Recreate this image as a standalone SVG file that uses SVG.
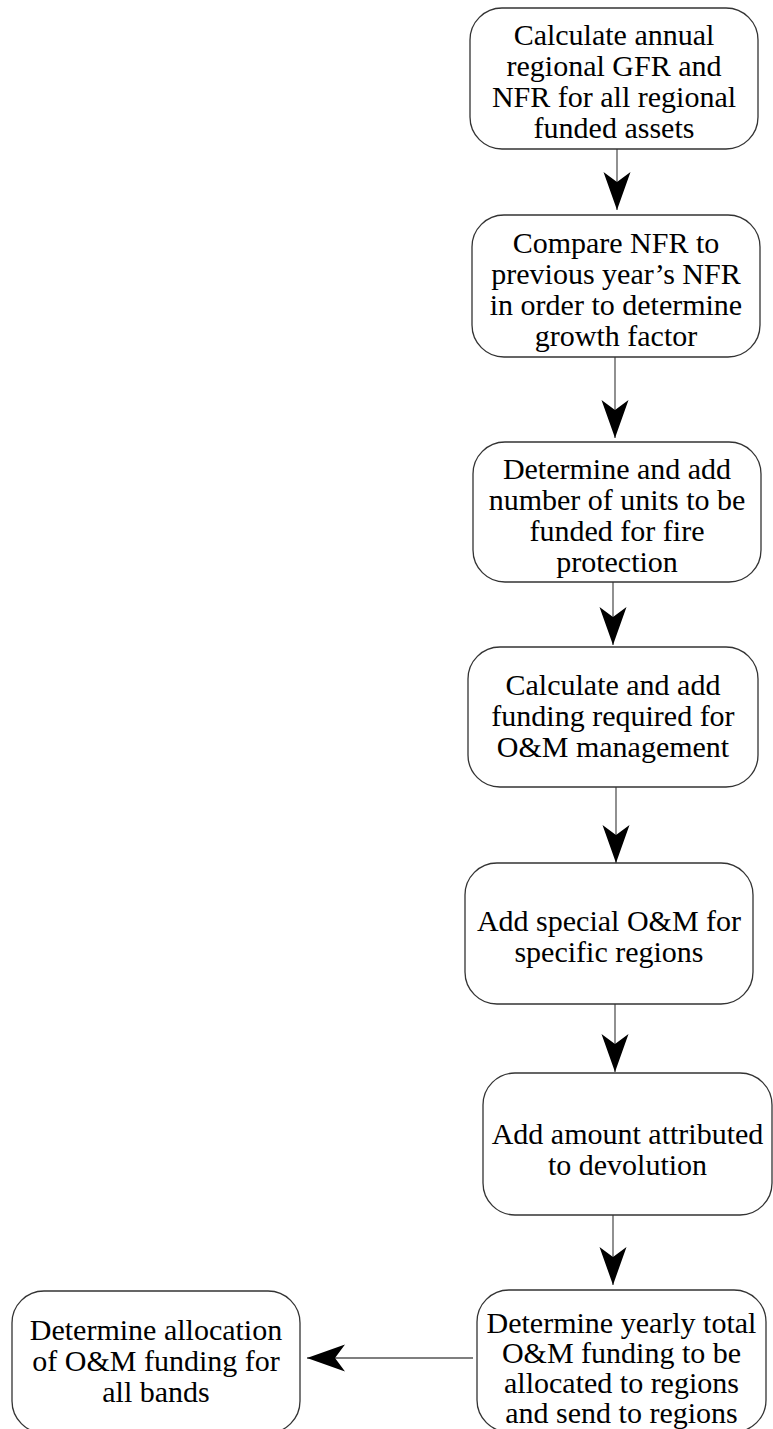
<svg xmlns="http://www.w3.org/2000/svg" width="773" height="1429" viewBox="0 0 773 1429">
<style>
.box{fill:#fff;stroke:#333;stroke-width:1.3}
.t{font-family:"Liberation Serif","Times New Roman",serif;font-size:30px;fill:#000;text-anchor:middle}
.c{stroke:#555;stroke-width:1.3;fill:none;marker-end:url(#ah)}
</style>
<defs>
<marker id="ah" markerUnits="userSpaceOnUse" markerWidth="40" markerHeight="28" refX="38" refY="13.5" orient="auto" overflow="visible">
<path d="M38,13.5 L0,0 L10,13.5 L0,27 Z" fill="#000"/>
</marker>
</defs>
<rect width="773" height="1429" fill="#fff"/>
<g id="connectors">
<line class="c" x1="617" y1="149" x2="617" y2="210"/>
<line class="c" x1="615" y1="357" x2="615" y2="438"/>
<line class="c" x1="613" y1="582" x2="613" y2="645"/>
<line class="c" x1="616" y1="787" x2="616" y2="863"/>
<line class="c" x1="615" y1="1004" x2="615" y2="1072"/>
<line class="c" x1="613" y1="1215" x2="613" y2="1285"/>
<line class="c" x1="473" y1="1358" x2="307" y2="1358"/>
</g>
<g id="n1">
<rect class="box" x="470" y="8" width="288" height="141" rx="32"/>
<text class="t"><tspan x="614" y="45">Calculate annual</tspan><tspan x="614" y="76">regional GFR and</tspan><tspan x="614" y="107">NFR for all regional</tspan><tspan x="614" y="138">funded assets</tspan></text>
</g>
<g id="n2">
<rect class="box" x="472" y="215" width="288" height="142" rx="32"/>
<text class="t"><tspan x="616" y="253">Compare NFR to</tspan><tspan x="616" y="284">previous year’s NFR</tspan><tspan x="616" y="315">in order to determine</tspan><tspan x="616" y="346">growth factor</tspan></text>
</g>
<g id="n3">
<rect class="box" x="473" y="442" width="288" height="140" rx="32"/>
<text class="t"><tspan x="617" y="479">Determine and add</tspan><tspan x="617" y="510">number of units to be</tspan><tspan x="617" y="541">funded for fire</tspan><tspan x="617" y="572">protection</tspan></text>
</g>
<g id="n4">
<rect class="box" x="468" y="647" width="290" height="140" rx="32"/>
<text class="t"><tspan x="613" y="695">Calculate and add</tspan><tspan x="613" y="726">funding required for</tspan><tspan x="613" y="757">O&amp;M management</tspan></text>
</g>
<g id="n5">
<rect class="box" x="465" y="863" width="288" height="141" rx="32"/>
<text class="t"><tspan x="609" y="931">Add special O&amp;M for</tspan><tspan x="609" y="962">specific regions</tspan></text>
</g>
<g id="n6">
<rect class="box" x="483" y="1073" width="289" height="142" rx="32"/>
<text class="t"><tspan x="627.5" y="1144">Add amount attributed</tspan><tspan x="627.5" y="1175">to devolution</tspan></text>
</g>
<g id="n7">
<rect class="box" x="477" y="1290" width="289" height="142" rx="32"/>
<text class="t"><tspan x="621.5" y="1333">Determine yearly total</tspan><tspan x="621.5" y="1363">O&amp;M funding to be</tspan><tspan x="621.5" y="1393">allocated to regions</tspan><tspan x="621.5" y="1423">and send to regions</tspan></text>
</g>
<g id="n8">
<rect class="box" x="12" y="1291" width="288" height="142" rx="32"/>
<text class="t"><tspan x="156" y="1340">Determine allocation</tspan><tspan x="156" y="1371">of O&amp;M funding for</tspan><tspan x="156" y="1402">all bands</tspan></text>
</g>
</svg>
